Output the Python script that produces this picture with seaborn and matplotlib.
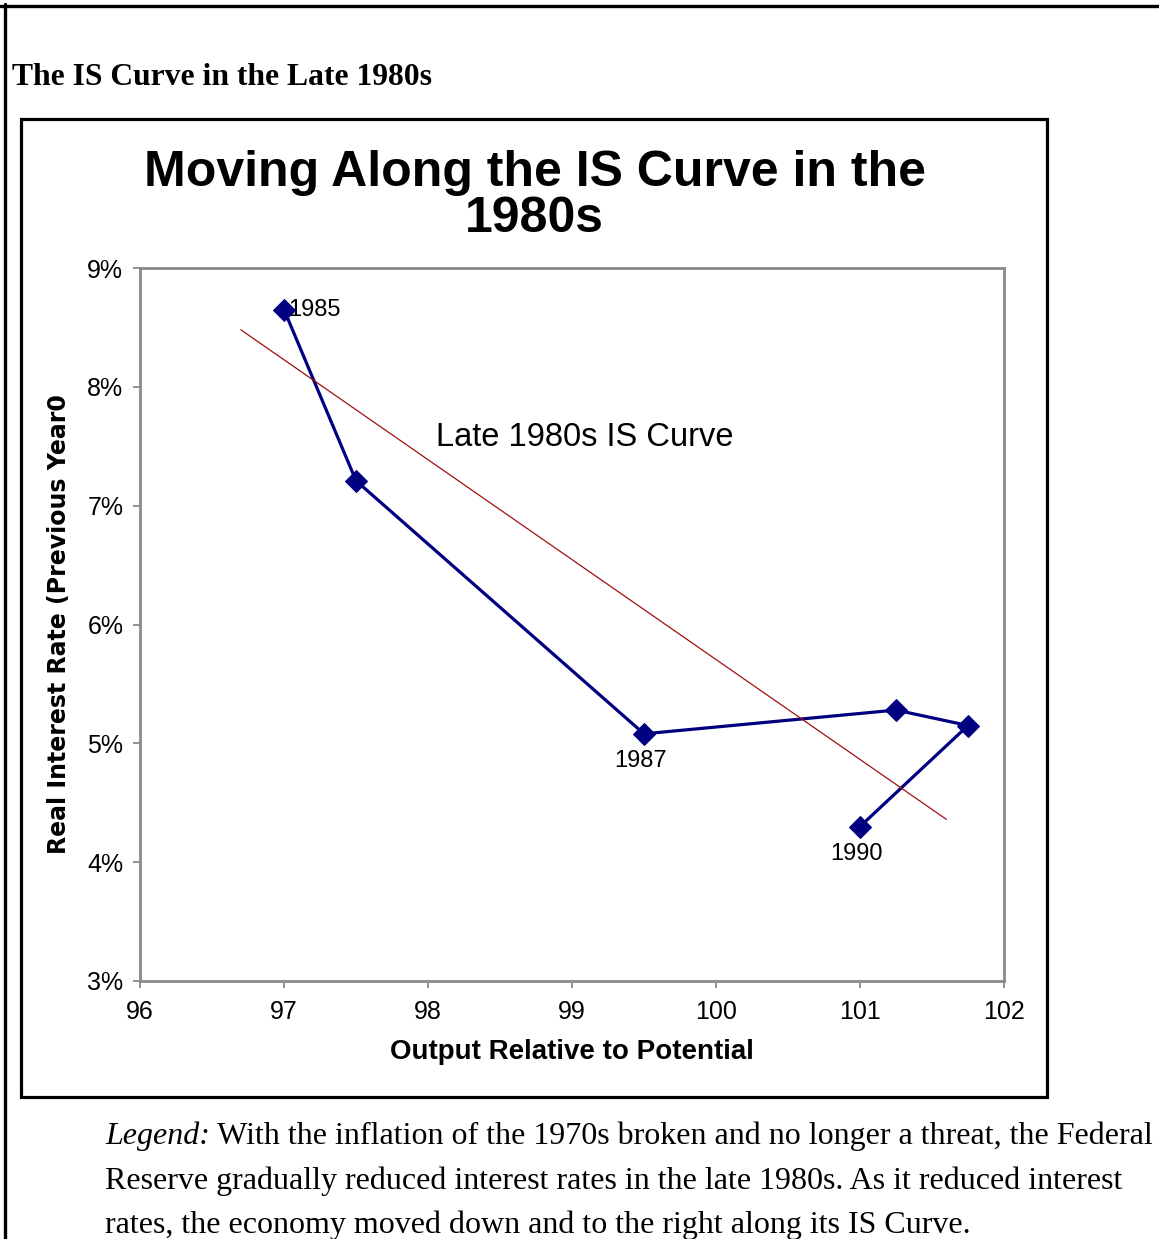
import numpy as np
import pandas as pd
import matplotlib
matplotlib.use("Agg")
import matplotlib.pyplot as plt
from matplotlib.lines import Line2D
from matplotlib.patches import Rectangle
from matplotlib.ticker import FuncFormatter, FixedLocator
import seaborn as sns

# Path of the economy, 1985-1990
years = [1985, 1986, 1987, 1988, 1989, 1990]
output_gap = [97.0, 97.5, 99.5, 101.25, 101.75, 101.0]
real_rate = [8.65, 7.21, 5.08, 5.28, 5.15, 4.30]
labelled_years = [1985, 1987, 1990]

# Late-1980s IS curve endpoints
is_curve_output = [96.70, 101.60]
is_curve_rate = [8.48, 4.36]

x_ticks = [96, 97, 98, 99, 100, 101, 102]
y_ticks = [3, 4, 5, 6, 7, 8, 9]

df = pd.DataFrame({"year": years, "output": output_gap, "rate": real_rate})
is_df = pd.DataFrame({"output": is_curve_output, "rate": is_curve_rate})

sns.set_style("white")
plt.rcParams["font.family"] = ["Liberation Sans", "DejaVu Sans"]
plt.rcParams["text.color"] = "black"
plt.rcParams["axes.labelcolor"] = "black"
plt.rcParams["xtick.color"] = "black"
plt.rcParams["ytick.color"] = "black"

W, H = 1159, 1239
fig = plt.figure(figsize=(W / 100, H / 100), dpi=100)
fig.patch.set_facecolor("white")


def fx(px):
    return px / W


def fy(py):
    return 1 - py / H


ax = fig.add_axes([fx(140), fy(981), 864 / W, 713 / H])

sns.lineplot(data=df, x="output", y="rate", sort=False, estimator=None,
             color="#000080", lw=2.3, marker="D", markersize=11,
             markeredgecolor="#000080", ax=ax, zorder=3)
sns.lineplot(data=is_df, x="output", y="rate", sort=False, estimator=None,
             color="#A01010", lw=0.9, ax=ax, zorder=4)

# year labels
offsets = {1985: ((4, 0), "left", "center"),
           1987: ((-3, -27), "center", "center"),
           1990: ((-3, -27), "center", "center")}
for _, row in df.iterrows():
    yr = int(row["year"])
    if yr in labelled_years:
        off, ha, va = offsets[yr]
        ax.annotate(str(yr), (row["output"], row["rate"]), xytext=off,
                    textcoords="offset pixels", ha=ha, va=va,
                    fontsize=17, color="black", zorder=1.5)

ax.text(98.056, 7.577, "Late 1980s IS Curve", fontsize=23.5, ha="left",
        va="center", color="black")

ax.set_xlim(96, 102)
ax.set_ylim(3, 9)
ax.xaxis.set_major_locator(FixedLocator(x_ticks))
ax.yaxis.set_major_locator(FixedLocator(y_ticks))
ax.yaxis.set_major_formatter(FuncFormatter(lambda v, p: f"{v:.0f}%"))
ax.xaxis.set_major_formatter(FuncFormatter(lambda v, p: f"{v:.0f}"))
ax.tick_params(axis="both", which="major", direction="out", length=5,
               width=1.2, color="#808080", labelsize=18, pad=7,
               labelcolor="black", bottom=True, left=True)
ax.tick_params(axis="x", pad=9)
for s in ax.spines.values():
    s.set_visible(True)
    s.set_color("#8a8a8a")
    s.set_linewidth(2.0)

ax.set_xlabel("Output Relative to Potential", fontsize=20, fontweight="bold",
              va="center", color="black")
ax.xaxis.set_label_coords(0.5, (981 - 1052) / 713)
ax.set_ylabel("Real Interest Rate (Previous Year0", fontsize=17,
              fontweight="bold", family="DejaVu Sans", va="center",
              color="black")
ax.yaxis.set_label_coords((59 - 140) / 864, 0.5)

# chart titles
fig.text(fx(534.5), fy(186), "Moving Along the IS Curve in the", fontsize=36,
         fontweight="bold", ha="center", va="baseline")
fig.text(fx(534.5), fy(232), "1980s", fontsize=36, fontweight="bold",
         ha="center", va="baseline")

# page heading
fig.text(fx(12), fy(85), "The IS Curve in the Late 1980s", fontsize=22.8,
         fontweight="bold", family="Liberation Serif", ha="left",
         va="baseline")

# frames
fig.add_artist(Line2D([fx(0), fx(W)], [fy(5.5), fy(5.5)], color="black",
                      lw=2.4, transform=fig.transFigure))
fig.add_artist(Line2D([fx(4.5), fx(4.5)], [fy(4), fy(H)], color="black",
                      lw=2.4, transform=fig.transFigure))
fig.add_artist(Rectangle((fx(20.5), fy(1096.5)), (1046.5 - 20.5) / W,
                         (1096.5 - 118.5) / H, fill=False, edgecolor="black",
                         lw=2.3, transform=fig.transFigure))

# caption
cap_kw = dict(fontsize=23, family="Liberation Serif", va="baseline",
              color="black")
t0 = fig.text(fx(105), fy(1144), "Legend:", style="italic", ha="left", **cap_kw)
fig.canvas.draw()
bb = t0.get_window_extent()
fig.text(bb.x1 / W + fx(7), fy(1144),
         "With the inflation of the 1970s broken and no longer a threat, the Federal",
         ha="left", **cap_kw)
fig.text(fx(105), fy(1189),
         "Reserve gradually reduced interest rates in the late 1980s. As it reduced interest",
         ha="left", **cap_kw)
fig.text(fx(105), fy(1233),
         "rates, the economy moved down and to the right along its IS Curve.",
         ha="left", **cap_kw)

fig.savefig("out.png", dpi=100, facecolor="white")
